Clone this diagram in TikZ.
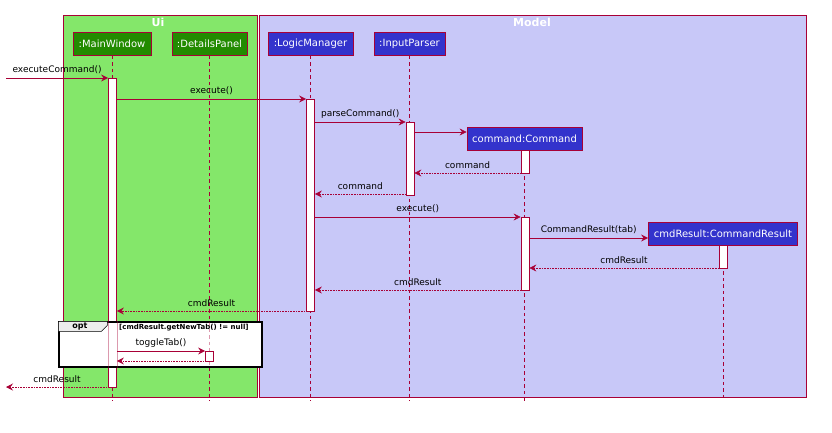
\documentclass[tikz,border=0pt]{standalone}
\usepackage{fontspec}
\setmainfont{DejaVu Sans}
\usetikzlibrary{arrows.meta, positioning, calc}
\definecolor{umlred}{RGB}{168,0,54}
\definecolor{uigreen}{RGB}{132,231,106}
\definecolor{uidark}{RGB}{34,139,0}
\definecolor{modelbg}{RGB}{200,200,248}
\definecolor{modelblue}{RGB}{51,51,204}

\begin{document}
\begin{tikzpicture}[
    x=1pt, y=-1pt,
    frame/.style={draw=umlred, line width=0.8pt},
    title/.style={text=white, font=\fontsize{11}{12}\selectfont\bfseries},
    part/.style={draw=umlred, line width=0.8pt, text=white, font=\fontsize{10}{12}\selectfont, inner sep=0pt, minimum height=23pt},
    life/.style={umlred, dash pattern=on 3.5pt off 3pt, line width=0.6pt},
    act/.style={draw=umlred, fill=white, line width=0.8pt, minimum width=8pt, inner sep=0pt},
    msg/.style={umlred, line width=0.6pt, -{Stealth[length=7pt,width=7pt,inset=2.5pt]}},
    ret/.style={msg, densely dotted},
    lbl/.style={font=\fontsize{9}{10}\selectfont, text=black, above=0.5pt}
]
    \useasboundingbox (0,0) rectangle (832,432);

    % boxes
    \node[frame, fill=uigreen, minimum width=194pt, minimum height=382pt, inner sep=0pt] (ui) at (160,206) {};
    \node[frame, fill=modelbg, minimum width=547pt, minimum height=382pt, inner sep=0pt] (model) at (532.5,206) {};
    \node[title] (uiT) at (158,22) {Ui};
    \node[title] (modelT) at (532,22) {Model};

    % participants
    \node[part, fill=uidark, minimum width=78pt] (mw) at (112,44) {:MainWindow};
    \node[part, fill=uidark, minimum width=75pt] (dp) at (209.5,44) {:DetailsPanel};
    \node[part, fill=modelblue, minimum width=85pt] (lm) at (310.5,44) {:LogicManager};
    \node[part, fill=modelblue, minimum width=71pt] (ip) at (409.5,44) {:InputParser};
    \node[part, fill=modelblue, minimum width=115pt] (cmd) at (524.5,138.5) {command:Command};
    \node[part, fill=modelblue, minimum width=149pt] (res) at (723,233.5) {cmdResult:CommandResult};

    % lifelines
    \foreach \p in {mw, dp, lm, ip, cmd, res}
        \draw[life] (\p.south) -- (\p.south |- 0,401);

    % activations
    \node[act, minimum height=309pt] (mwA) at (112.5,232.5) {};
    \node[act, minimum height=212pt] (lmA) at (310.5,205) {};
    \node[act, minimum height=73pt] (ipA) at (410,158.5) {};
    \node[act, minimum height=23pt] (cmdA) at (525,161.5) {};
    \node[act, minimum height=73pt] (cmdB) at (525,253.5) {};
    \node[act, minimum height=23pt] (resA) at (723,256.5) {};

    % messages
    \coordinate (caller) at (6,78);
    \coordinate (back) at (6,387);
    \draw[msg] (caller) -- (mwA.west |- caller) node[lbl, midway] {executeCommand()};
    \draw[msg] (mwA.east |- 0,99) -- (lmA.west |- 0,99) node[lbl, midway] {execute()};
    \draw[msg] (lmA.east |- 0,122) -- (ipA.west |- 0,122) node[lbl, midway] {parseCommand()};
    \draw[msg] (ipA.east |- 0,132) -- (cmd.west |- 0,132);
    \draw[ret] (cmdA.west |- 0,173) -- (ipA.east |- 0,173) node[lbl, midway] {command};
    \draw[ret] (ipA.west |- 0,194) -- (lmA.east |- 0,194) node[lbl, midway] {command};
    \draw[msg] (lmA.east |- 0,217) -- (cmdB.west |- 0,217) node[lbl, midway] {execute()};
    \draw[msg] (cmdB.east |- 0,238) -- (res.west |- 0,238) node[lbl, midway] {CommandResult(tab)};
    \draw[ret] (resA.west |- 0,268) -- (cmdB.east |- 0,268) node[lbl, midway] {cmdResult};
    \draw[ret] (cmdB.west |- 0,290) -- (lmA.east |- 0,290) node[lbl, midway] {cmdResult};
    \draw[ret] (lmA.west |- 0,311) -- (mwA.east |- 0,311) node[lbl, midway] {cmdResult};

    % opt fragment
    \node[draw=black, line width=1.2pt, fill=white, minimum width=203pt, minimum height=45pt, inner sep=0pt] (opt) at (160.5,344.5) {};
    \begin{scope}[opacity=0.4]
        \clip (opt.north west) rectangle (opt.south east);
        \draw[life] (dp.south) -- (dp.south |- 0,401);
        \draw[umlred, line width=0.8pt] (mwA.north west) rectangle (mwA.south east);
    \end{scope}
    \draw[black, line width=0.6pt, fill=black!7] (opt.north west) -- ++(49,0) -- ++(0,4) -- ++(-6,6) -- ++(-43,0) -- cycle;
    \node[font=\fontsize{8}{9}\selectfont\bfseries] (optT) at (80,327) {opt};
    \node[font=\fontsize{7}{8}\selectfont\bfseries, anchor=west, inner sep=0pt] (guard) at (119,328) {[cmdResult.getNewTab() != null]};
    \node[act, minimum height=10pt] (dpA) at (209.5,356) {};
    \draw[msg] (mwA.east |- 0,351) -- (dpA.west |- 0,351) node[lbl, midway] {toggleTab()};
    \draw[ret] (dpA.west |- 0,361) -- (mwA.east |- 0,361);

    \draw[ret] (mwA.west |- back) -- (back) node[lbl, midway] {cmdResult};
\end{tikzpicture}
\end{document}
